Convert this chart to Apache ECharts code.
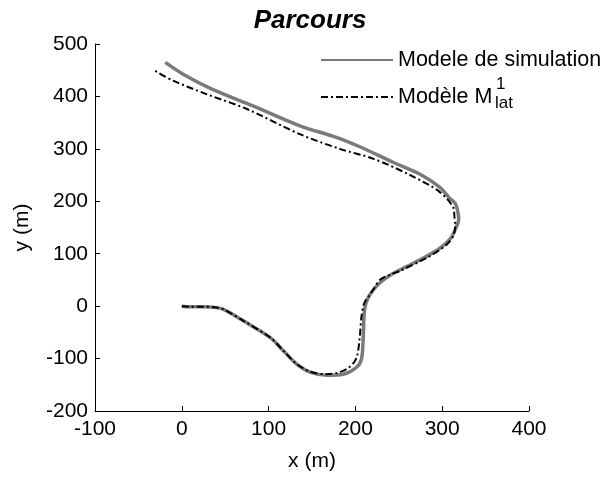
<!DOCTYPE html>
<html>
<head>
<meta charset="utf-8">
<script src="https://cdn.jsdelivr.net/npm/echarts@6/dist/echarts.min.js"></script>
<style>
html,body{margin:0;padding:0;background:#fff;}
#chart{width:605px;height:477px;}
</style>
</head>
<body>
<div id="chart"></div>
<script>
// Data
var titleText = "Parcours";
var xAxisName = "x (m)";
var yAxisName = "y (m)";
var seriesNames = ["Modele de simulation", "Modèle M"];
var xTicks = [-100, 0, 100, 200, 300, 400];
var yTicks = [-200, -100, 0, 100, 200, 300, 400, 500];

var simX = [0, 10, 25, 36, 48, 71, 102, 117, 132, 148, 167, 186, 201, 207, 209, 210, 212, 216, 222, 230, 240, 250, 274, 297, 310, 316, 319, 318, 315, 309, 297, 274, 244, 205, 178, 136, 82, 36, 2, -19];
var simY = [0, -1, -1, -2, -6, -28, -60, -85, -110, -126, -132, -130, -117, -101, -60, -16, 5, 20, 34, 47, 59, 68, 88, 110, 130, 150, 165, 180, 196, 205, 227, 252, 274, 304, 322, 344, 382, 413, 442, 465];

var latX = [0, 10, 25, 36, 48, 71, 102, 117, 132, 148, 167, 180, 190, 198, 202, 205, 207, 210, 215, 222, 228, 240, 251, 282, 305, 313, 315, 314, 313, 297, 263, 221, 182, 136, 75, 29, -10, -31];
var latY = [0, -1, -1, -2, -6, -28, -60, -85, -110, -125, -130, -127, -120, -108, -95, -60, -20, 5, 18, 35, 50, 60, 67, 92, 117, 135, 155, 172, 187, 218, 250, 281, 300, 328, 376, 404, 430, 449];

function zip(xs, ys) {
  var out = [];
  for (var i = 0; i < xs.length; i++) out.push([xs[i], ys[i]]);
  return out;
}

var FONT = "Liberation Sans";
var chart = echarts.init(document.getElementById('chart'), null, {renderer: 'canvas'});

var legendCommon = {
  itemWidth: 72, itemHeight: 4, itemGap: 0, padding: 0,
  itemStyle: {color: 'transparent', borderColor: 'transparent', borderWidth: 0},
  textStyle: {fontFamily: FONT, fontSize: 21.5, color: '#000'}
};

var option = {
  backgroundColor: '#ffffff',
  animation: false,
  title: {
    text: titleText,
    left: 305,
    top: 3,
    textAlign: 'center',
    textStyle: {fontFamily: FONT, fontSize: 26, fontWeight: 'bold', fontStyle: 'italic', color: '#000'}
  },
  grid: {left: 95, right: 76, top: 44, bottom: 63, containLabel: false},
  xAxis: {
    type: 'value',
    min: xTicks[0], max: xTicks[xTicks.length - 1], interval: 100,
    name: xAxisName, nameLocation: 'middle', nameGap: 40,
    nameTextStyle: {fontFamily: FONT, fontSize: 21, color: '#000'},
    axisLine: {show: true, onZero: false, lineStyle: {color: '#000', width: 1}},
    axisTick: {show: true, inside: true, length: 5, lineStyle: {color: '#000'}},
    axisLabel: {fontFamily: FONT, fontSize: 21, color: '#000', margin: 8},
    splitLine: {show: false}
  },
  yAxis: {
    type: 'value',
    min: yTicks[0], max: yTicks[yTicks.length - 1], interval: 100,
    name: yAxisName, nameLocation: 'middle', nameGap: 62, nameRotate: 90,
    nameTextStyle: {fontFamily: FONT, fontSize: 21, color: '#000'},
    axisLine: {show: true, onZero: false, lineStyle: {color: '#000', width: 1}},
    axisTick: {show: true, inside: true, length: 5, lineStyle: {color: '#000'}},
    axisLabel: {fontFamily: FONT, fontSize: 21, color: '#000', margin: 7},
    splitLine: {show: false}
  },
  legend: [
    Object.assign({data: [seriesNames[0]], left: 320, top: 49}, legendCommon),
    Object.assign({data: [seriesNames[1]], left: 320, top: 86}, legendCommon)
  ],
  graphic: [
    {type: 'text', left: 496, top: 76, style: {text: '1', font: '17px "Liberation Sans"', fill: '#000'}},
    {type: 'text', left: 495, top: 95, style: {text: 'lat', font: '17px "Liberation Sans"', fill: '#000'}}
  ],
  series: [
    {
      name: seriesNames[0], type: 'line', data: zip(simX, simY),
      showSymbol: false, symbol: 'none', smooth: 0.3, clip: false,
      lineStyle: {color: '#7a7a7a', width: 3.5, type: 'solid'},
      itemStyle: {color: '#7a7a7a'}, z: 2
    },
    {
      name: seriesNames[1], type: 'line', data: zip(latX, latY),
      showSymbol: false, symbol: 'none', smooth: 0.3, clip: false,
      lineStyle: {color: '#000', width: 2, type: [7, 3, 2, 3]},
      itemStyle: {color: '#000'}, z: 3
    }
  ]
};
chart.setOption(option);
</script>
</body>
</html>
